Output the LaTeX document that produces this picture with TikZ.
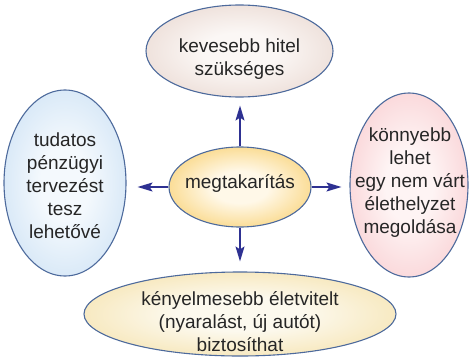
\documentclass[tikz,border=0pt]{standalone}
\usepackage{fontspec}
\setmainfont{Liberation Sans}
\usetikzlibrary{shapes.geometric,arrows.meta}

\definecolor{rim}{HTML}{4D6A9C}
\definecolor{arrowblue}{HTML}{2E3192}
\definecolor{beigeout}{HTML}{DDC3B8}
\definecolor{beigein}{HTML}{FBF7F5}
\definecolor{blueout}{HTML}{B3D2EF}
\definecolor{bluein}{HTML}{F4F9FD}
\definecolor{pinkout}{HTML}{F5B2B8}
\definecolor{pinkin}{HTML}{FEF4F4}
\definecolor{goldout}{HTML}{F4B41C}
\definecolor{goldin}{HTML}{FFF8E8}
\definecolor{creamout}{HTML}{F1D27E}
\definecolor{creamin}{HTML}{FCF9EE}

% soft radial fill: pale centre, colour concentrated towards the rim
\colorlet{softin}{white}
\colorlet{softout}{gray}
\pgfdeclareradialshading[softin,softout]{softglow}{\pgfpoint{0bp}{0bp}}{%
  color(0bp)=(softin);
  color(10bp)=(softin);
  color(27bp)=(softin!55!softout);
  color(40bp)=(softin!20!softout);
  color(50bp)=(softout);
  color(100bp)=(softout)}

\tikzset{
  tint/.code 2 args={\colorlet{softin}{#1}\colorlet{softout}{#2}},
  bubble/.style={ellipse, draw=rim, line width=1.1pt, inner sep=0pt, shading=softglow},
  caption/.style={font=\fontsize{19}{23}\selectfont, align=center, text=black!85, inner sep=0pt},
  link/.style={draw=arrowblue, line width=1.7pt,
    -{Stealth[length=15pt, width=9pt, inset=3pt]}}
}

\begin{document}
\begin{tikzpicture}[x=1pt, y=1pt]
  \useasboundingbox (0,0) rectangle (470,357);

  % outer bubbles
  \node[tint={beigein}{beigeout}, bubble, minimum width=187pt, minimum height=92pt] (top) at (239.5,306) {};
  \node[tint={bluein}{blueout}, bubble, minimum width=122pt, minimum height=186pt] (left) at (65,174) {};
  \node[tint={pinkin}{pinkout}, bubble, minimum width=118pt, minimum height=184pt] (right) at (409,172) {};
  \node[tint={creamin}{creamout}, bubble, minimum width=312pt, minimum height=84pt] (bottom) at (240,43) {};

  % central bubble
  \node[tint={goldin}{goldout}, bubble, minimum width=142pt, minimum height=80pt] (mid) at (240,170) {};

  % texts
  \node[caption] (toptext) at (239.5,298) {kevesebb hitel\\szükséges};
  \node[caption] (lefttext) at (65,171) {tudatos\\pénzügyi\\tervezést\\tesz\\lehetővé};
  \node[caption] (righttext) at (410,174.5) {könnyebb\\lehet\\egy nem várt\\élethelyzet\\megoldása};
  \node[caption] (bottomtext) at (240,35) {kényelmesebb életvitelt\\(nyaralást, új autót)\\biztosíthat};
  \node[caption] (midtext) at (240,174) {megtakarítás};

  % arrows
  \draw[link, shorten >=8pt] (mid.north) -- (mid.north |- top.south);
  \draw[link, shorten >=10pt] (mid.south) -- (mid.south |- bottom.north);
  \draw[link, shorten >=11pt] (mid.west) -- (mid.west -| left.east);
  \draw[link, shorten >=8pt] (mid.east) -- (mid.east -| right.west);
\end{tikzpicture}
\end{document}
